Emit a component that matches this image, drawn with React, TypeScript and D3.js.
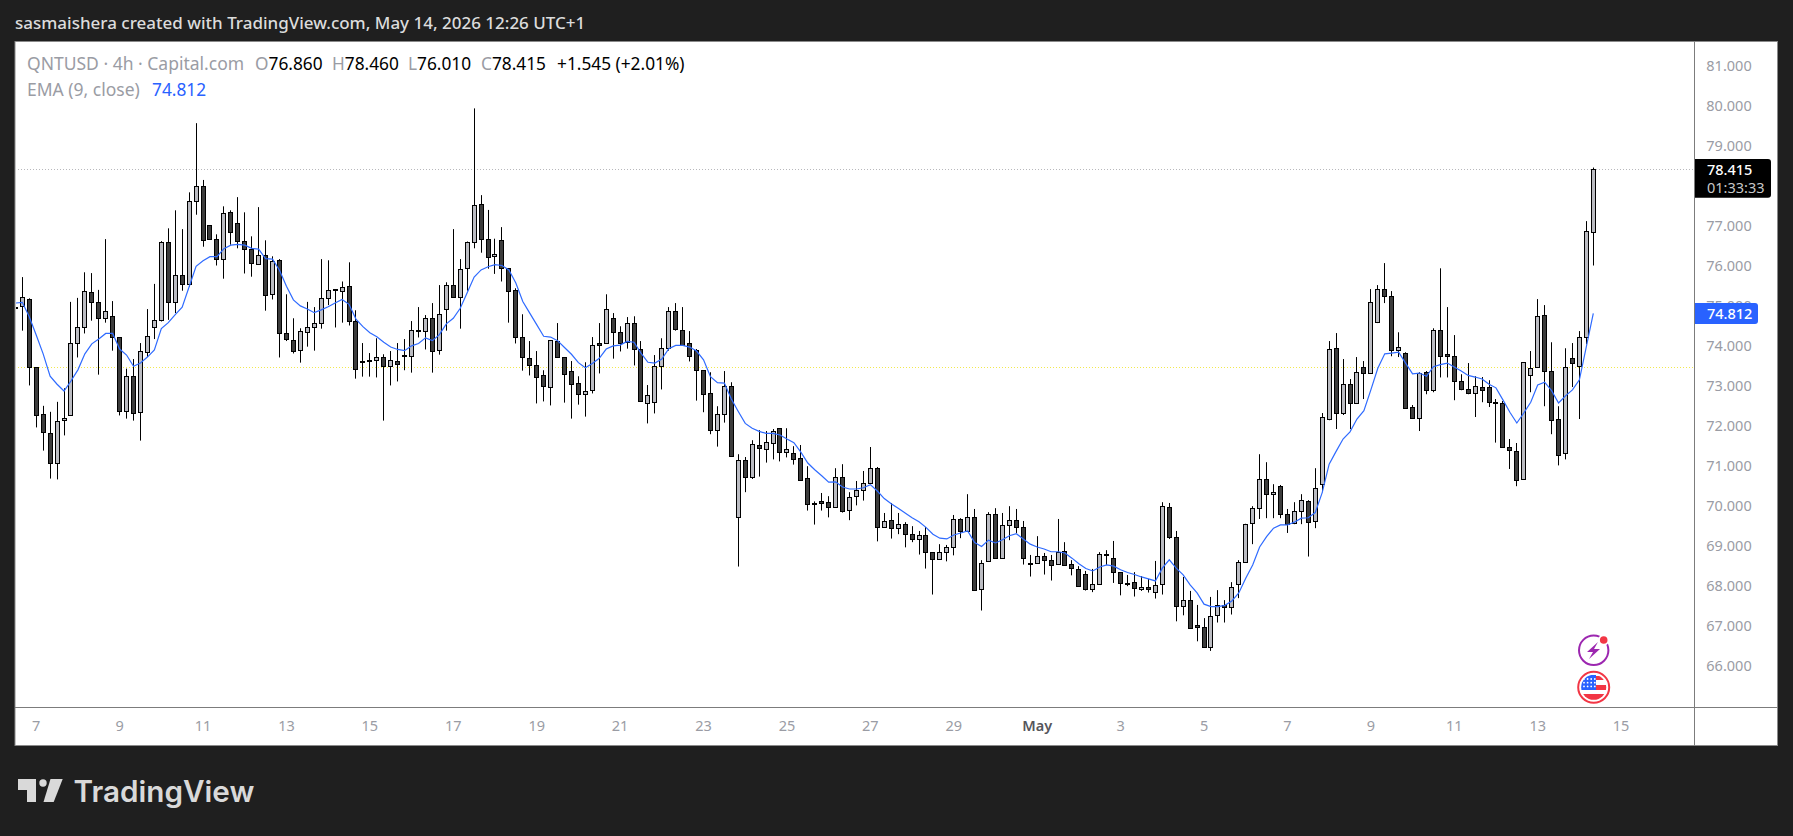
import React from "react";
import * as d3 from "d3";

const opens = [74.98,
74.99,75.17,73.47,72.29,71.82,71.07,72.14,72.27,74.07,74.47,
75.34,75.09,74.69,74.74,74.22,72.37,73.24,72.34,73.84,74.47,
74.64,76.59,75.09,75.77,75.54,77.62,77.99,77.02,76.67,76.17,
77.34,77.07,76.62,76.42,76.04,76.27,75.29,76.14,74.32,74.14,
73.89,74.34,74.47,74.57,75.19,75.42,75.37,75.49,74.62,73.62,
73.64,73.64,73.72,73.49,73.62,73.76,73.74,74.38,74.37,74.69,
73.89,74.92,75.52,75.23,75.94,76.59,77.54,76.67,76.24,76.64,
75.94,75.39,74.22,73.69,73.52,73.27,72.97,74.12,73.72,73.37,
73.07,72.79,72.89,74.07,74.07,74.69,74.34,74.09,74.57,73.92,
72.57,72.59,73.49,73.94,74.87,74.39,74.07,73.89,73.39,72.82,
71.89,72.29,72.99,69.72,71.14,70.72,71.52,71.42,71.57,71.94,
71.34,71.32,71.19,70.69,70.07,70.12,70.09,69.97,70.72,69.89,
70.24,70.39,70.57,70.94,69.47,69.64,69.44,69.54,69.29,69.17,
69.27,68.84,68.67,68.84,68.97,69.67,69.37,69.72,67.92,68.62,
69.79,68.69,69.52,69.64,69.47,68.57,68.57,68.74,68.64,68.54,
68.87,68.54,68.42,68.29,67.92,68.04,68.79,68.69,68.34,68.07,
68.09,67.92,67.97,67.84,68.04,69.97,69.22,67.49,67.64,67.02,
66.97,66.47,67.27,67.52,67.47,68.04,68.59,69.57,69.94,70.67,
70.29,70.49,69.79,69.57,69.87,70.12,69.62,70.54,72.17,73.94,
72.32,73.04,72.57,73.47,73.32,74.59,75.42,75.24,73.89,73.82,
72.47,72.19,73.34,72.89,74.39,73.79,73.74,73.12,72.92,72.82,
72.97,72.97,72.58,72.57,71.47,71.37,70.67,73.27,73.47,74.77,
73.37,72.17,71.32,73.69,73.49,74.22,76.86];

const highs = [75.61,
75.72,75.19,73.47,72.50,72.35,72.60,72.94,75.10,75.20,75.84,
75.82,75.40,76.67,75.12,74.22,73.43,73.67,74.07,74.92,75.55,
76.62,76.94,77.39,76.92,77.84,79.57,78.15,77.02,76.79,77.49,
77.39,77.72,77.34,76.74,77.47,76.64,76.24,76.17,75.29,74.69,
74.44,75.10,74.97,76.17,76.14,75.42,75.61,76.09,74.89,74.07,
73.82,74.19,73.79,73.87,74.07,74.17,74.62,74.97,74.77,75.07,
75.52,75.59,76.92,76.17,76.61,79.94,77.77,77.40,76.68,76.97,
75.94,75.44,74.79,74.12,73.87,73.39,74.14,74.57,73.72,73.62,
73.24,73.59,74.22,74.57,75.29,74.82,74.49,74.72,74.74,74.12,
73.02,73.77,74.19,74.97,75.07,74.97,74.37,73.92,73.39,73.34,
72.49,73.37,73.09,71.29,71.22,71.64,71.89,71.87,71.92,71.94,
71.94,71.49,71.52,70.99,70.11,70.32,70.24,70.94,71.04,70.34,
70.62,70.87,71.47,70.97,69.82,70.07,69.82,69.59,69.49,69.37,
69.47,68.84,69.04,69.02,69.77,69.69,70.29,69.92,68.64,69.84,
69.94,69.82,69.99,69.92,69.62,68.77,69.24,68.82,68.77,69.67,
69.09,68.64,68.49,68.37,68.42,68.84,68.89,69.12,68.34,68.27,
68.34,68.24,68.17,68.62,70.09,70.07,69.37,68.22,67.87,67.52,
67.19,67.72,67.89,67.64,68.09,68.64,69.55,69.99,71.29,71.09,
70.54,70.52,69.92,70.09,70.29,70.14,70.94,72.32,74.12,74.32,
73.67,73.17,73.72,73.62,75.42,75.52,76.07,75.37,74.34,73.84,
72.52,73.34,73.37,74.44,75.94,74.97,74.27,73.29,73.57,73.24,
73.22,73.14,72.67,72.62,71.67,71.57,73.59,73.87,75.17,75.02,
74.09,72.49,73.94,74.07,74.37,77.12,78.46];

const lows = [74.44,
74.38,73.01,71.96,71.38,70.68,70.66,71.76,72.27,73.71,74.31,
74.63,73.28,74.58,73.88,72.26,72.18,72.13,71.63,73.72,74.17,
74.61,74.65,74.82,75.38,75.48,77.28,76.48,76.67,76.01,75.68,
76.53,76.44,75.81,75.73,76.04,74.88,75.16,73.71,74.12,73.81,
73.58,73.98,73.88,74.43,75.02,74.46,74.58,74.51,73.18,73.23,
73.23,73.21,72.13,73.01,73.11,73.39,73.33,74.21,73.91,73.33,
73.78,74.38,75.21,74.43,75.38,76.44,76.33,75.93,75.80,75.61,
74.58,74.06,73.38,73.26,72.56,72.61,72.51,73.72,72.58,72.18,
72.53,72.23,72.81,73.31,74.07,73.68,73.86,73.93,73.51,72.62,
72.06,72.31,72.91,73.88,74.38,74.03,73.61,72.63,72.34,71.79,
71.48,72.08,71.24,68.48,70.34,70.67,70.73,71.08,71.16,71.11,
71.21,71.03,70.64,69.88,69.53,69.88,69.71,69.97,69.83,69.64,
70.01,70.13,70.57,69.11,69.47,69.18,69.29,68.96,69.09,68.78,
68.43,67.78,68.67,68.61,68.76,69.19,69.37,67.87,67.38,68.62,
68.69,68.69,69.14,69.32,68.53,68.23,68.57,68.28,68.13,68.54,
68.52,68.26,67.99,67.88,67.84,68.02,68.52,68.07,67.76,67.99,
67.73,67.87,67.83,67.68,67.78,69.17,67.11,67.26,66.94,66.61,
66.47,66.37,67.08,67.08,67.28,67.69,68.59,69.04,69.67,69.69,
69.69,69.69,69.32,69.54,69.54,68.73,69.44,70.34,72.14,71.92,
72.27,71.92,72.57,72.67,73.32,74.57,75.07,73.74,73.72,72.44,
72.17,71.87,72.79,72.84,73.21,73.21,72.64,72.89,72.79,72.22,
72.59,72.47,71.58,71.47,70.92,70.49,70.67,72.84,73.47,72.49,
71.79,71.01,71.16,72.97,72.17,74.04,76.01];

const closes = [74.96,
75.23,73.47,72.27,71.84,71.07,72.12,72.19,74.07,74.47,75.37,
75.09,74.69,74.87,74.22,72.37,73.24,72.32,73.87,74.24,74.64,
76.59,75.09,75.77,75.54,77.62,77.99,76.64,76.67,76.17,77.32,
76.84,76.62,76.42,76.07,76.27,75.27,76.12,74.32,74.17,73.87,
74.37,74.47,74.57,75.19,75.39,75.39,75.47,74.62,73.42,73.61,
73.61,73.72,73.49,73.64,73.54,73.77,74.39,74.39,74.69,73.87,
74.79,75.52,75.23,75.92,76.59,77.52,76.67,76.22,76.30,75.94,
75.38,74.23,73.73,73.51,73.23,72.99,74.14,73.72,73.29,73.04,
72.79,72.87,74.02,74.03,74.92,74.34,74.07,74.57,73.92,72.62,
72.77,73.49,73.94,74.87,74.42,74.03,73.74,73.39,72.79,71.89,
72.29,72.99,71.24,71.14,70.72,71.54,71.44,71.59,71.87,71.34,
71.42,71.17,70.64,70.04,70.06,70.07,69.97,70.72,69.87,70.22,
70.39,70.57,70.94,69.47,69.62,69.44,69.54,69.29,69.17,69.27,
68.84,68.67,68.84,68.97,69.67,69.37,69.72,67.89,68.57,69.79,
68.69,69.52,69.64,69.47,68.69,68.54,68.74,68.64,68.52,68.84,
68.52,68.44,67.99,67.92,68.04,68.79,68.77,68.34,68.07,68.05,
67.94,67.97,67.92,68.02,69.99,69.22,67.49,67.64,66.94,66.97,
66.47,67.24,67.52,67.47,67.97,68.59,69.54,69.94,70.67,70.29,
70.34,69.79,69.54,69.87,70.14,69.59,70.44,72.22,73.92,72.32,
73.04,72.57,73.34,73.32,75.09,75.42,75.24,73.89,73.97,72.44,
72.19,73.32,72.89,74.39,73.74,73.74,73.12,72.92,72.82,72.99,
72.89,72.59,72.59,71.47,71.39,70.64,73.59,73.44,74.74,73.37,
72.14,71.27,73.47,73.57,74.22,76.87,78.415];

const emaValues = [75.07,
75.09,74.73,74.27,73.80,73.24,73.04,72.87,73.12,73.40,73.80,
74.05,74.17,74.31,74.31,73.92,73.77,73.49,73.57,73.72,73.90,
74.43,74.58,74.78,74.97,75.48,75.99,76.13,76.23,76.23,76.43,
76.52,76.54,76.52,76.44,76.42,76.18,76.17,75.89,75.49,75.15,
75.00,74.92,74.83,74.90,74.98,75.07,75.16,75.04,74.67,74.48,
74.33,74.23,74.09,73.97,73.91,73.88,74.00,74.06,74.20,74.13,
74.28,74.55,74.69,74.94,75.33,75.72,75.90,75.98,76.03,76.01,
75.90,75.57,75.11,74.82,74.53,74.24,74.22,74.13,73.96,73.79,
73.58,73.45,73.56,73.69,73.92,74.00,74.02,74.11,74.09,73.82,
73.59,73.57,73.67,73.93,74.01,74.01,73.97,73.87,73.65,73.23,
73.08,73.07,72.67,72.36,72.06,71.94,71.86,71.81,71.81,71.77,
71.67,71.58,71.34,71.07,70.90,70.75,70.59,70.60,70.47,70.42,
70.42,70.45,70.53,70.37,70.18,70.05,69.94,69.82,69.70,69.60,
69.46,69.29,69.19,69.17,69.27,69.32,69.37,69.08,68.98,69.14,
69.07,69.15,69.25,69.30,69.17,69.04,68.97,68.92,68.85,68.85,
68.82,68.69,68.55,68.43,68.37,68.47,68.52,68.49,68.40,68.33,
68.28,68.22,68.17,68.12,68.44,68.65,68.44,68.27,68.02,67.82,
67.54,67.48,67.48,67.51,67.62,67.82,68.19,68.52,68.97,69.23,
69.44,69.52,69.52,69.59,69.69,69.70,69.83,70.33,71.04,71.36,
71.67,71.85,72.17,72.38,72.90,73.44,73.80,73.82,73.84,73.57,
73.30,73.32,73.24,73.48,73.53,73.57,73.47,73.37,73.26,73.22,
73.17,73.04,72.95,72.65,72.34,72.07,72.32,72.59,73.02,73.09,
72.88,72.57,72.75,72.90,73.15,73.98,74.812];

const priceTicks = [81, 80, 79, 77, 76, 75, 74, 73, 72, 71, 70, 69, 68, 67, 66];
const dateTicks = ["7","9","11","13","15","17","19","21","23","25","27","29","May","3","5","7","9","11","13","15"];
const lastPrice = 78.415;
const lastEma = 74.812;
const yellowLevel = 73.465;

const W = 1793, H = 836;
const plotL = 15, plotT = 41.5, plotR = 1694.5, plotB = 707.5, outerR = 1777.5, outerB = 745.5;

const x = d3.scaleLinear().domain([0, 227]).range([15.35, 1593.3]);
const y = d3.scaleLinear().domain([66, 81]).range([665.7, 66]);
const emaLine = d3.line<number>().x((_, i) => x(i)).y((d) => y(d)).curve(d3.curveLinear);

const FONT = "'Noto Sans', sans-serif";
const UP = "#bbbcc2", DOWN = "#3c3c3c";
const LEG = 17.5;

export default function App() {
  const n = opens.length;
  return (
    <svg width={W} height={H} style={{ position: "absolute", left: 0, top: 0, display: "block" }} fontFamily={FONT}>
      <defs>
        <clipPath id="pane"><rect x={plotL + 1} y={plotT} width={plotR - plotL - 1} height={plotB - plotT} /></clipPath>
        <clipPath id="flag"><circle cx={1593.7} cy={687.3} r={12.5} /></clipPath>
      </defs>
      <rect width={W} height={H} fill="#1f1f1f" />
      <text x={15} y={29} fontSize={17} fill="#dcdcdc" fontWeight={500}>sasmaishera created with TradingView.com, May 14, 2026 12:26 UTC+1</text>
      <rect x={plotL} y={plotT} width={outerR - plotL} height={outerB - plotT} fill="#ffffff" stroke="#8a8a8a" strokeWidth={1} />
      <line x1={plotR} x2={plotR} y1={plotT} y2={outerB} stroke="#7c7c7c" />
      <line x1={plotL} x2={outerR} y1={plotB} y2={plotB} stroke="#7c7c7c" />

      <g clipPath="url(#pane)">
        <line x1={plotL} x2={plotR} y1={Math.round(y(yellowLevel)) + 0.5} y2={Math.round(y(yellowLevel)) + 0.5} stroke="#f2e94e" strokeDasharray="1 2" />
        <line x1={plotL} x2={plotR} y1={Math.round(y(lastPrice)) + 0.5} y2={Math.round(y(lastPrice)) + 0.5} stroke="#b8b8bc" strokeDasharray="1 2" />
        {d3.range(n).map((i) => {
          const cx = Math.floor(x(i)) + 0.5;
          const top = Math.round(y(Math.max(opens[i], closes[i])));
          const bot = Math.round(y(Math.min(opens[i], closes[i])));
          return (
            <g key={i}>
              <line x1={cx} x2={cx} y1={y(highs[i])} y2={y(lows[i])} stroke="#000" strokeWidth={1} />
              <rect x={cx - 2} y={top + 0.5} width={4} height={Math.max(bot - top, 1)} fill={closes[i] >= opens[i] ? UP : DOWN} stroke="#000" strokeWidth={1} />
            </g>
          );
        })}
        <path d={emaLine(emaValues) ?? ""} fill="none" stroke="#2f6bff" strokeWidth={1.2} />
      </g>

      <text x={27} y={70} fontSize={LEG} fill="#9a9ca4">QNTUSD · 4h · Capital.com</text>
      {[["O","76.860",255],["H","78.460",332],["L","76.010",408],["C","78.415",481]].map(([k, v, px]) => (
        <text key={k as string} x={px as number} y={70} fontSize={17.3} fill="#000"><tspan fill="#9a9ca4">{k}</tspan>{v}</text>
      ))}
      <text x={557} y={70} fontSize={17.3} fill="#000">+1.545 (+2.01%)</text>
      <text x={27} y={96} fontSize={LEG} fill="#9a9ca4">EMA (9, close)</text>
      <text x={152} y={96} fontSize={17.3} fill="#2962ff">74.812</text>

      {priceTicks.map((t) => (
        <text key={t} x={1751.7} y={y(t) + 5} fontSize={14.5} textAnchor="end" fill="#9a9ca4">{t.toFixed(3)}</text>
      ))}

      <path d="M1695,159 H1768 a3,3 0 0 1 3,3 V194.7 a3,3 0 0 1 -3,3 H1695 Z" fill="#000" />
      <text x={1707} y={175} fontSize={14.5} fill="#fff" fontWeight={500}>{lastPrice.toFixed(3)}</text>
      <text x={1707} y={193} fontSize={14.5} fill="#c8c8c8">01:33:33</text>
      <path d="M1695,303 H1755 a3,3 0 0 1 3,3 V321 a3,3 0 0 1 -3,3 H1695 Z" fill="#2962ff" />
      <text x={1707} y={319.2} fontSize={14.5} fill="#fff" fontWeight={500}>{lastEma.toFixed(3)}</text>

      {dateTicks.map((d, k) => (
        <text key={k} x={x(3 + 12 * k)} y={731} fontSize={14.5} textAnchor="middle" fill={d === "May" ? "#55555b" : "#9a9ca4"} fontWeight={d === "May" ? 600 : 400}>{d}</text>
      ))}

      <circle cx={1593.7} cy={650.3} r={14.7} fill="none" stroke="#9c27b0" strokeWidth={2} />
      <path d="M1598,642 L1587,652 L1593,652 L1589,659 L1600,649 L1594,649 Z" fill="#9c27b0" />
      <circle cx={1603.7} cy={640} r={5.5} fill="#fff" />
      <circle cx={1603.7} cy={640} r={3.8} fill="#f23645" />

      <circle cx={1593.7} cy={687.3} r={15.5} fill="#fff" stroke="#f23645" strokeWidth={2} />
      <g clipPath="url(#flag)">
        <rect x={1581} y={675} width={26} height={25} fill="#fff" />
        <rect x={1596} y={676} width={12} height={4} fill="#f23645" />
        <rect x={1596} y={685} width={12} height={5} fill="#f23645" />
        <rect x={1581} y={694} width={26} height={6} fill="#f23645" />
        <rect x={1581} y={675} width={15} height={15} fill="#2962ff" />
        {d3.range(3).flatMap((r) => d3.range(4).map((c) => (
          <circle key={`${r}-${c}`} cx={1584 + c * 3.6} cy={679 + r * 3.7} r={0.9} fill="#fff" />
        )))}
      </g>

      <path d="M18,779 H36 V802 H27 V790 H18 Z" fill="#d9d9d9" />
      <circle cx={43} cy={783} r={3.7} fill="#d9d9d9" />
      <path d="M50.5,779 H62.7 L53.7,802 H43.5 Z" fill="#d9d9d9" />
      <text x={73.5} y={801.7} fontSize={29.7} fontWeight={600} fill="#d9d9d9" fontFamily="Inter, sans-serif">TradingView</text>
    </svg>
  );
}
